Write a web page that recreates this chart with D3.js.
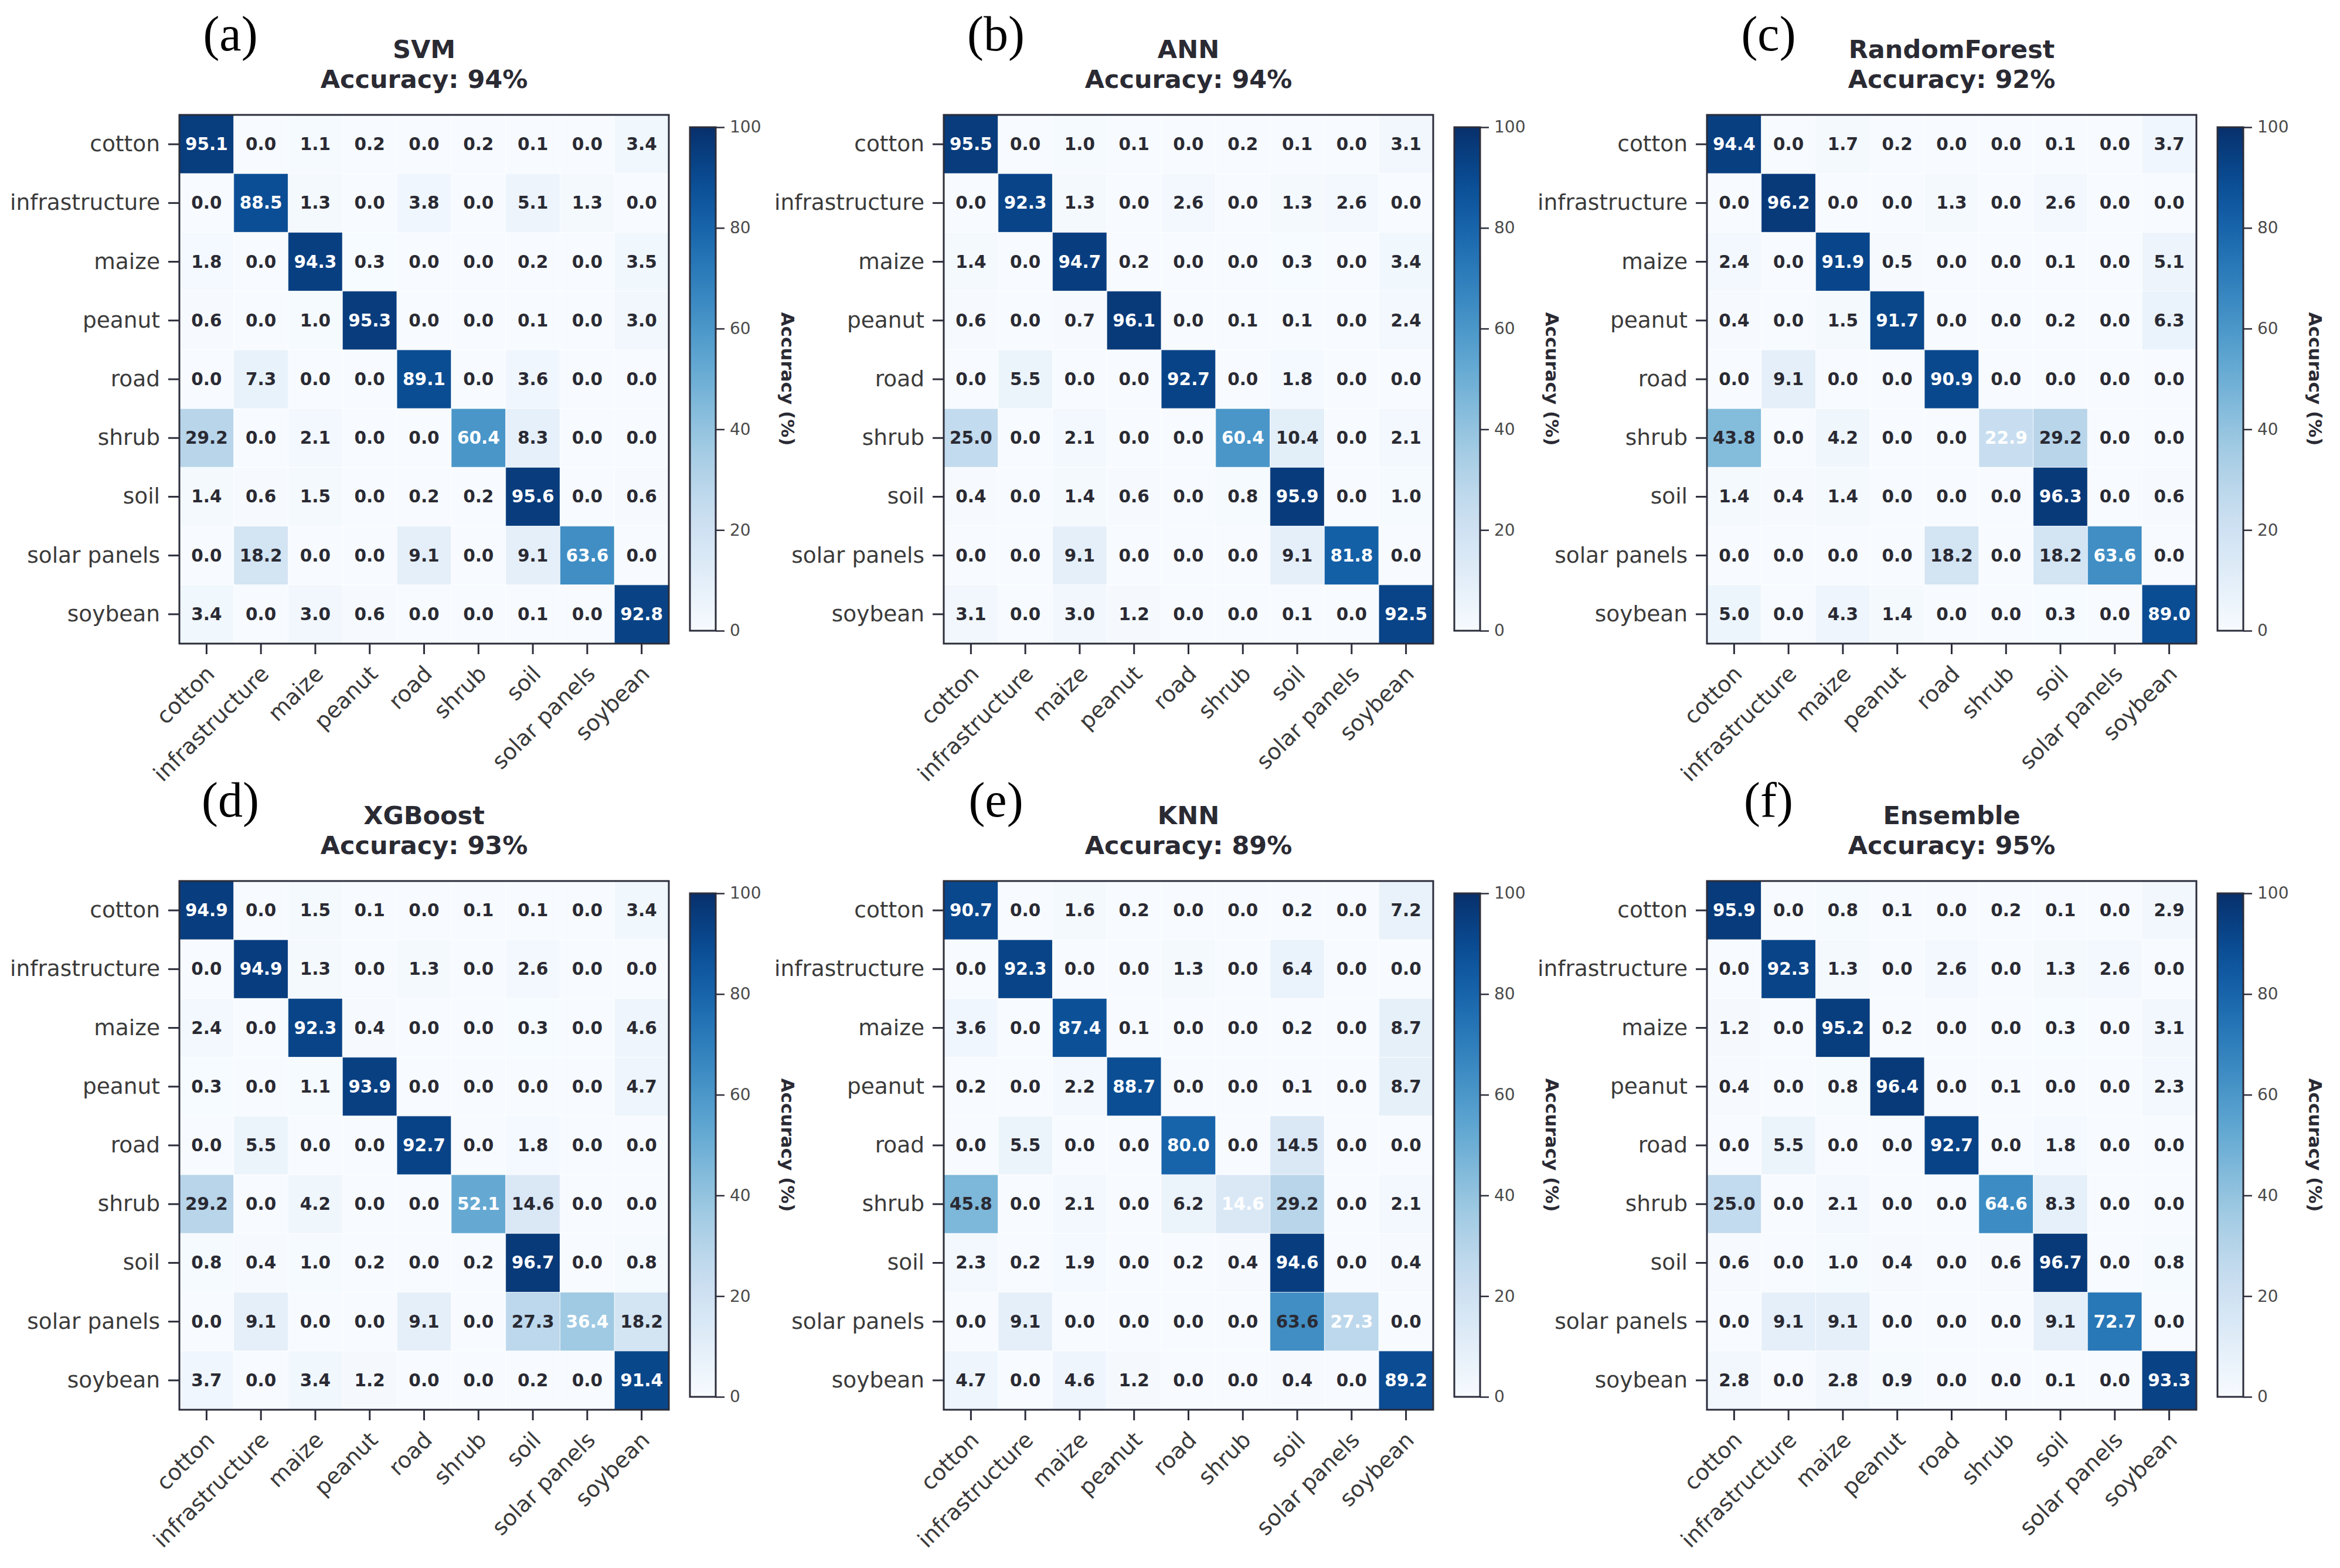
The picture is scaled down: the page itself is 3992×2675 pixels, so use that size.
<!DOCTYPE html>
<html>
<head>
<meta charset="utf-8">
<script src="https://cdn.jsdelivr.net/npm/d3@7"></script>
<style>
  html, body { margin: 0; padding: 0; background: #ffffff; }
  svg { display: block; }
</style>
</head>
<body>
<svg id="chart" width="3992" height="2675"></svg>
<script>
// ---------------- DATA ----------------
const categories = ["cotton", "infrastructure", "maize", "peanut", "road", "shrub", "soil", "solar panels", "soybean"];

const panelLetters = ["(a)", "(b)", "(c)", "(d)", "(e)", "(f)"];
const modelNames = ["SVM", "ANN", "RandomForest", "XGBoost", "KNN", "Ensemble"];
const accuracies = [94, 94, 92, 93, 89, 95];
const colorbarTicks = [0, 20, 40, 60, 80, 100];

const svmMatrix = [
  [95.1, 0.0, 1.1, 0.2, 0.0, 0.2, 0.1, 0.0, 3.4],
  [0.0, 88.5, 1.3, 0.0, 3.8, 0.0, 5.1, 1.3, 0.0],
  [1.8, 0.0, 94.3, 0.3, 0.0, 0.0, 0.2, 0.0, 3.5],
  [0.6, 0.0, 1.0, 95.3, 0.0, 0.0, 0.1, 0.0, 3.0],
  [0.0, 7.3, 0.0, 0.0, 89.1, 0.0, 3.6, 0.0, 0.0],
  [29.2, 0.0, 2.1, 0.0, 0.0, 60.4, 8.3, 0.0, 0.0],
  [1.4, 0.6, 1.5, 0.0, 0.2, 0.2, 95.6, 0.0, 0.6],
  [0.0, 18.2, 0.0, 0.0, 9.1, 0.0, 9.1, 63.6, 0.0],
  [3.4, 0.0, 3.0, 0.6, 0.0, 0.0, 0.1, 0.0, 92.8]
];
const annMatrix = [
  [95.5, 0.0, 1.0, 0.1, 0.0, 0.2, 0.1, 0.0, 3.1],
  [0.0, 92.3, 1.3, 0.0, 2.6, 0.0, 1.3, 2.6, 0.0],
  [1.4, 0.0, 94.7, 0.2, 0.0, 0.0, 0.3, 0.0, 3.4],
  [0.6, 0.0, 0.7, 96.1, 0.0, 0.1, 0.1, 0.0, 2.4],
  [0.0, 5.5, 0.0, 0.0, 92.7, 0.0, 1.8, 0.0, 0.0],
  [25.0, 0.0, 2.1, 0.0, 0.0, 60.4, 10.4, 0.0, 2.1],
  [0.4, 0.0, 1.4, 0.6, 0.0, 0.8, 95.9, 0.0, 1.0],
  [0.0, 0.0, 9.1, 0.0, 0.0, 0.0, 9.1, 81.8, 0.0],
  [3.1, 0.0, 3.0, 1.2, 0.0, 0.0, 0.1, 0.0, 92.5]
];
const rfMatrix = [
  [94.4, 0.0, 1.7, 0.2, 0.0, 0.0, 0.1, 0.0, 3.7],
  [0.0, 96.2, 0.0, 0.0, 1.3, 0.0, 2.6, 0.0, 0.0],
  [2.4, 0.0, 91.9, 0.5, 0.0, 0.0, 0.1, 0.0, 5.1],
  [0.4, 0.0, 1.5, 91.7, 0.0, 0.0, 0.2, 0.0, 6.3],
  [0.0, 9.1, 0.0, 0.0, 90.9, 0.0, 0.0, 0.0, 0.0],
  [43.8, 0.0, 4.2, 0.0, 0.0, 22.9, 29.2, 0.0, 0.0],
  [1.4, 0.4, 1.4, 0.0, 0.0, 0.0, 96.3, 0.0, 0.6],
  [0.0, 0.0, 0.0, 0.0, 18.2, 0.0, 18.2, 63.6, 0.0],
  [5.0, 0.0, 4.3, 1.4, 0.0, 0.0, 0.3, 0.0, 89.0]
];
const xgbMatrix = [
  [94.9, 0.0, 1.5, 0.1, 0.0, 0.1, 0.1, 0.0, 3.4],
  [0.0, 94.9, 1.3, 0.0, 1.3, 0.0, 2.6, 0.0, 0.0],
  [2.4, 0.0, 92.3, 0.4, 0.0, 0.0, 0.3, 0.0, 4.6],
  [0.3, 0.0, 1.1, 93.9, 0.0, 0.0, 0.0, 0.0, 4.7],
  [0.0, 5.5, 0.0, 0.0, 92.7, 0.0, 1.8, 0.0, 0.0],
  [29.2, 0.0, 4.2, 0.0, 0.0, 52.1, 14.6, 0.0, 0.0],
  [0.8, 0.4, 1.0, 0.2, 0.0, 0.2, 96.7, 0.0, 0.8],
  [0.0, 9.1, 0.0, 0.0, 9.1, 0.0, 27.3, 36.4, 18.2],
  [3.7, 0.0, 3.4, 1.2, 0.0, 0.0, 0.2, 0.0, 91.4]
];
const knnMatrix = [
  [90.7, 0.0, 1.6, 0.2, 0.0, 0.0, 0.2, 0.0, 7.2],
  [0.0, 92.3, 0.0, 0.0, 1.3, 0.0, 6.4, 0.0, 0.0],
  [3.6, 0.0, 87.4, 0.1, 0.0, 0.0, 0.2, 0.0, 8.7],
  [0.2, 0.0, 2.2, 88.7, 0.0, 0.0, 0.1, 0.0, 8.7],
  [0.0, 5.5, 0.0, 0.0, 80.0, 0.0, 14.5, 0.0, 0.0],
  [45.8, 0.0, 2.1, 0.0, 6.2, 14.6, 29.2, 0.0, 2.1],
  [2.3, 0.2, 1.9, 0.0, 0.2, 0.4, 94.6, 0.0, 0.4],
  [0.0, 9.1, 0.0, 0.0, 0.0, 0.0, 63.6, 27.3, 0.0],
  [4.7, 0.0, 4.6, 1.2, 0.0, 0.0, 0.4, 0.0, 89.2]
];
const ensembleMatrix = [
  [95.9, 0.0, 0.8, 0.1, 0.0, 0.2, 0.1, 0.0, 2.9],
  [0.0, 92.3, 1.3, 0.0, 2.6, 0.0, 1.3, 2.6, 0.0],
  [1.2, 0.0, 95.2, 0.2, 0.0, 0.0, 0.3, 0.0, 3.1],
  [0.4, 0.0, 0.8, 96.4, 0.0, 0.1, 0.0, 0.0, 2.3],
  [0.0, 5.5, 0.0, 0.0, 92.7, 0.0, 1.8, 0.0, 0.0],
  [25.0, 0.0, 2.1, 0.0, 0.0, 64.6, 8.3, 0.0, 0.0],
  [0.6, 0.0, 1.0, 0.4, 0.0, 0.6, 96.7, 0.0, 0.8],
  [0.0, 9.1, 9.1, 0.0, 0.0, 0.0, 9.1, 72.7, 0.0],
  [2.8, 0.0, 2.8, 0.9, 0.0, 0.0, 0.1, 0.0, 93.3]
];
const matrices = [svmMatrix, annMatrix, rfMatrix, xgbMatrix, knnMatrix, ensembleMatrix];

// ---------------- LAYOUT / STYLE ----------------
const W = 3992, H = 2675;
const colX = [306, 1610, 2912];
const rowY = [196, 1503];
const matW = 835, matH = 902;
const cbGap = 36, cbW = 44, cbTopInset = 21, cbBotInset = 22;
const labelDx = [87, 89, 105];
const sans = "'DejaVu Sans', Verdana, sans-serif";
const serif = "'Liberation Serif', 'Times New Roman', serif";
const darkText = "#2a2a33";
const labelText = "#3a3a3a";
const frameCol = "#2b2d3a";

const svg = d3.select("#chart");
svg.append("rect").attr("width", W).attr("height", H).attr("fill", "#ffffff");

const color = d3.scaleSequential(d3.interpolateBlues).domain([0, 100]);

// gradient for colorbars
const defs = svg.append("defs");
const grad = defs.append("linearGradient").attr("id", "bluesGrad")
  .attr("x1", "0").attr("y1", "1").attr("x2", "0").attr("y2", "0");
d3.range(0, 101, 2).forEach(v => {
  grad.append("stop").attr("offset", (v / 100)).attr("stop-color", color(v));
});

matrices.forEach((mat, idx) => {
  const col = idx % 3, row = Math.floor(idx / 3);
  const L = colX[col], T = rowY[row];
  const g = svg.append("g").attr("transform", `translate(${L},${T})`);

  const x = d3.scaleBand().domain(categories).range([0, matW]).padding(0);
  const y = d3.scaleBand().domain(categories).range([0, matH]).padding(0);

  const cells = [];
  mat.forEach((r, i) => r.forEach((v, j) => cells.push({ i, j, v })));

  g.selectAll("rect.cell").data(cells).enter().append("rect")
    .attr("class", "cell")
    .attr("x", d => x(categories[d.j]))
    .attr("y", d => y(categories[d.i]))
    .attr("width", x.bandwidth())
    .attr("height", y.bandwidth())
    .attr("fill", d => color(d.v))
    .attr("stroke", "#ffffff")
    .attr("stroke-opacity", 0.55)
    .attr("stroke-width", 1.2);

  g.selectAll("text.val").data(cells).enter().append("text")
    .attr("class", "val")
    .attr("x", d => x(categories[d.j]) + x.bandwidth() / 2)
    .attr("y", d => y(categories[d.i]) + y.bandwidth() / 2)
    .attr("text-anchor", "middle")
    .attr("dominant-baseline", "central")
    .attr("font-family", sans)
    .attr("font-weight", "bold")
    .attr("font-size", 29.5)
    .attr("fill", d => d.i === d.j ? "#ffffff" : darkText)
    .text(d => d.v.toFixed(1));

  // frame
  g.append("rect").attr("x", 0).attr("y", 0).attr("width", matW).attr("height", matH)
    .attr("fill", "none").attr("stroke", frameCol).attr("stroke-width", 3);

  // left axis
  const ay = g.append("g").call(d3.axisLeft(y).tickSize(19).tickPadding(14));
  ay.select(".domain").remove();
  ay.selectAll("line").attr("stroke", frameCol).attr("stroke-width", 3);
  ay.selectAll("text").attr("font-family", sans).attr("font-size", 37.5).attr("fill", labelText);

  // bottom axis
  const ax = g.append("g").attr("transform", `translate(0,${matH})`)
    .call(d3.axisBottom(x).tickSize(18).tickPadding(0));
  ax.select(".domain").remove();
  ax.selectAll("line").attr("stroke", frameCol).attr("stroke-width", 3);
  ax.selectAll("text")
    .attr("font-family", sans).attr("font-size", 38).attr("fill", labelText)
    .attr("x", 0).attr("y", 0).attr("dy", 0)
    .attr("text-anchor", "end")
    .attr("transform", "translate(16,54) rotate(-45)");

  // title
  const tx = matW / 2;
  g.append("text").attr("x", tx).attr("y", -112)
    .attr("text-anchor", "middle").attr("dominant-baseline", "central")
    .attr("font-family", sans).attr("font-weight", "bold").attr("font-size", 43)
    .attr("fill", darkText).text(modelNames[idx]);
  g.append("text").attr("x", tx).attr("y", -61)
    .attr("text-anchor", "middle").attr("dominant-baseline", "central")
    .attr("font-family", sans).attr("font-weight", "bold").attr("font-size", 43)
    .attr("fill", darkText).text(`Accuracy: ${accuracies[idx]}%`);

  // panel letter
  g.append("text").attr("x", labelDx[col]).attr("y", -110)
    .attr("text-anchor", "middle")
    .attr("font-family", serif).attr("font-size", 84).attr("fill", "#000000")
    .text(panelLetters[idx]);

  // colorbar
  const cbX = matW + cbGap;
  const cbTop = cbTopInset, cbBot = matH - cbBotInset;
  const cg = g.append("g").attr("transform", `translate(${cbX},0)`);
  cg.append("rect").attr("x", 0).attr("y", cbTop).attr("width", cbW).attr("height", cbBot - cbTop)
    .attr("fill", "url(#bluesGrad)");
  const cy = d3.scaleLinear().domain([0, 100]).range([cbBot, cbTop]);
  const cax = cg.append("g").attr("transform", `translate(${cbW},0)`)
    .call(d3.axisRight(cy).tickValues(colorbarTicks).tickSize(15).tickPadding(9).tickFormat(d3.format("d")));
  cax.select(".domain").remove();
  cax.selectAll("line").attr("stroke", frameCol).attr("stroke-width", 2.5);
  cax.selectAll("text").attr("font-family", sans).attr("font-size", 28).attr("fill", "#4a4a4a");
  cg.append("rect").attr("x", 0).attr("y", cbTop).attr("width", cbW).attr("height", cbBot - cbTop)
    .attr("fill", "none").attr("stroke", frameCol).attr("stroke-width", 3);

  // colorbar label
  const lx = cbW + 123, ly = (cbTop + cbBot) / 2;
  cg.append("text").attr("transform", `translate(${lx},${ly}) rotate(90)`)
    .attr("text-anchor", "middle").attr("dominant-baseline", "central")
    .attr("font-family", sans).attr("font-weight", "bold").attr("font-size", 31)
    .attr("fill", darkText).text("Accuracy (%)");
});
</script>
</body>
</html>
